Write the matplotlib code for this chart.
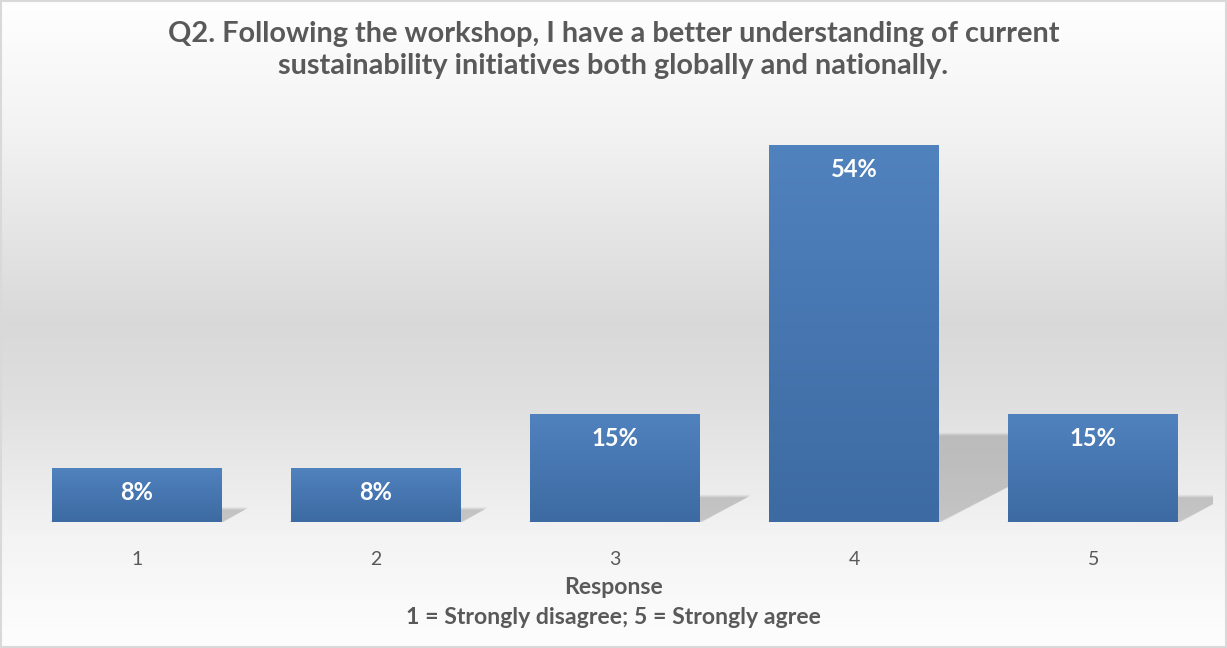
import numpy as np
import matplotlib
matplotlib.use("Agg")
import matplotlib.pyplot as plt
from matplotlib.patches import Polygon, Rectangle
from matplotlib.colors import LinearSegmentedColormap

# ---- data ----
categories = ["1", "2", "3", "4", "5"]
values = [7.7, 7.7, 15.4, 53.8, 15.4]          # percent of responses
labels = ["8%", "8%", "15%", "54%", "15%"]
title = ("Q2. Following the workshop, I have a better understanding of current\n"
         "sustainability initiatives both globally and nationally.")
xlabel_main = "Response"
xlabel_sub = "1 = Strongly disagree; 5 = Strongly agree"

plt.rcParams['font.family'] = ['Lato', 'DejaVu Sans']

W, H = 1227, 648
fig = plt.figure(figsize=(W / 100, H / 100), dpi=100)

# ---- background gradient ----
bg = fig.add_axes([0, 0, 1, 1], zorder=-10)
stops_y = np.array([0.0, 0.19, 0.5, 0.62, 0.83, 1.0])
stops_v = np.array([1.0, 0.955, 0.85, 0.875, 0.955, 0.995])
yy = np.linspace(0, 1, 400)
grad = np.interp(yy, stops_y, stops_v)
img = np.repeat(grad[:, None], 2, axis=1)
bg.imshow(np.dstack([img, img, img]), aspect='auto', extent=[0, 1, 0, 1], origin='upper')
bg.add_patch(Rectangle((0.001, 0.002), 0.998, 0.996, transform=bg.transAxes,
                       fill=False, edgecolor='#d9d9d9', lw=1.5))
bg.set_xlim(0, 1); bg.set_ylim(0, 1)
bg.axis('off')

# ---- main axes ----
left_px, right_px, base_px, top_px = 17, 1213, 522, 102
ax = fig.add_axes([left_px / W, (H - base_px) / H, (right_px - left_px) / W,
                   (base_px - top_px) / H])
ax.patch.set_alpha(0)
x = np.arange(1, len(categories) + 1)
bars = ax.bar(x, values, width=0.71, color='none', edgecolor='none', zorder=3)
ax.set_xlim(0.5, 5.5)
ax.set_ylim(0, 60)

# px per data unit for shadow geometry
px_x = (right_px - left_px) / 5.0
px_y = (base_px - top_px) / 60.0
shear_x = 0.45 * px_y / px_x
shear_y = 0.23

bar_cmap = LinearSegmentedColormap.from_list('b', ['#3d6aa2', '#5082be'])
for b, lab in zip(bars, labels):
    x0, w, h = b.get_x(), b.get_width(), b.get_height()
    # soft perspective shadow
    dx, dy = shear_x * h, shear_y * h
    for k, a in enumerate([0.04, 0.045, 0.05, 0.055]):
        e = (3 - k) * 0.004
        ey = (3 - k) * 0.12
        poly = Polygon([(x0 - e, 0), (x0 + w + e, 0), (x0 + w + dx + e, dy + ey),
                        (x0 + dx - e, dy + ey)], closed=True,
                       facecolor='black', alpha=a, edgecolor='none', zorder=1)
        ax.add_patch(poly)
    # gradient bar
    g = np.linspace(0, 1, 100)[:, None]
    ax.imshow(g, cmap=bar_cmap, aspect='auto', extent=[x0, x0 + w, 0, h],
              origin='lower', zorder=3)
    ax.text(x0 + w / 2, h - 24 / px_y, lab, ha='center', va='center',
            color='white', fontsize=17, fontweight='bold', zorder=5)

ax.set_xticks(x)
ax.set_xticklabels(categories, fontsize=14, color='#595959')
ax.tick_params(axis='x', length=0, pad=21)
ax.set_yticks([])
for s in ax.spines.values():
    s.set_visible(False)

fig.text(0.5, 1 - 50 / H, title, ha='center', va='center', fontsize=20.8,
         fontweight='bold', color='#595959', linespacing=1.3)
fig.text(0.5, 1 - 587 / H, xlabel_main, ha='center', va='center', fontsize=16.6,
         fontweight='bold', color='#595959')
fig.text(0.5, 1 - 618 / H, xlabel_sub, ha='center', va='center', fontsize=16.6,
         fontweight='bold', color='#595959')

fig.savefig('out.png', dpi=100)
